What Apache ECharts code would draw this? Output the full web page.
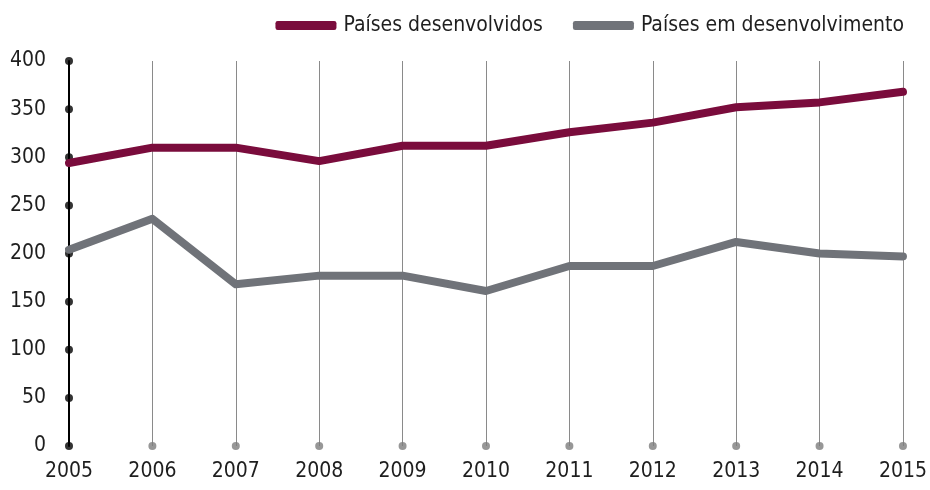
<!DOCTYPE html>
<html>
<head>
<meta charset="utf-8">
<script src="https://cdn.jsdelivr.net/npm/echarts@6/dist/echarts.min.js"></script>
<style>
  html, body { margin: 0; padding: 0; background: #fff; overflow: hidden; }
  #chart { width: 930px; height: 490px; }
</style>
</head>
<body>
<div id="chart"></div>
<script>
const years = ['2005','2006','2007','2008','2009','2010','2011','2012','2013','2014','2015'];
const developed = [294, 310, 310, 296, 312, 312, 326, 336, 352, 357, 368];
const developing = [204, 236, 168, 177, 177, 161, 187, 187, 212, 200, 197];
const yTicks = [0, 50, 100, 150, 200, 250, 300, 350, 400];
const nameDeveloped = 'Países desenvolvidos';
const nameDeveloping = 'Países em desenvolvimento';

const FONT = '"DejaVu Sans Condensed", "Liberation Sans Narrow", "Open Sans", sans-serif';
const MAROON = '#7a0c3c';
const GREY = '#707379';
const TEXT = '#1e1e1e';

const chart = echarts.init(document.getElementById('chart'), null, { renderer: 'canvas' });

chart.setOption({
  animation: false,
  backgroundColor: '#ffffff',
  textStyle: { fontFamily: FONT },
  legend: {
    data: [nameDeveloped, nameDeveloping],
    right: 21,
    top: 10,
    icon: 'roundRect',
    itemWidth: 61,
    itemHeight: 9,
    itemGap: 30,
    textStyle: { fontFamily: FONT, fontSize: 21, color: TEXT, padding: [0, 0, 0, 2] }
  },
  grid: { left: 69, right: 19, top: 61, bottom: 44 },
  xAxis: {
    type: 'category',
    data: years,
    boundaryGap: false,
    axisLine: { show: false },
    axisTick: { show: false },
    axisLabel: { fontFamily: FONT, fontSize: 21, color: TEXT, margin: 15 },
    splitLine: { show: true, lineStyle: { color: '#8a8a8a', width: 1 } }
  },
  yAxis: {
    type: 'value',
    min: yTicks[0],
    max: yTicks[yTicks.length - 1],
    interval: 50,
    axisLine: { show: true, lineStyle: { color: '#000', width: 2 } },
    axisTick: { show: false },
    splitLine: { show: false },
    axisLabel: { fontFamily: FONT, fontSize: 21, color: TEXT, margin: 23 }
  },
  series: [
    {
      name: 'yTickDots',
      type: 'scatter',
      symbol: 'circle',
      symbolSize: 8,
      itemStyle: { color: '#000' },
      z: 4,
      silent: true,
      data: yTicks.map(v => [years[0], v])
    },
    {
      name: 'baseDots',
      type: 'scatter',
      symbol: 'circle',
      symbolSize: 8,
      itemStyle: { color: '#7d7d7d' },
      z: 4,
      silent: true,
      data: years.slice(1).map(y => [y, 0])
    },
    {
      name: nameDeveloped,
      type: 'line',
      data: developed,
      showSymbol: false,
      symbol: 'none',
      color: MAROON,
      lineStyle: { color: MAROON, width: 8, cap: 'round', join: 'round' },
      z: 5
    },
    {
      name: nameDeveloping,
      type: 'line',
      data: developing,
      showSymbol: false,
      symbol: 'none',
      color: GREY,
      lineStyle: { color: GREY, width: 8, cap: 'round', join: 'round' },
      z: 5
    }
  ]
});
</script>
</body>
</html>
